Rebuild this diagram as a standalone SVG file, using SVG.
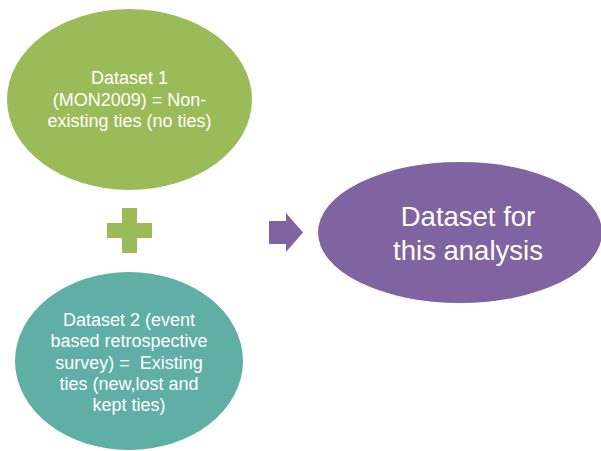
<svg xmlns="http://www.w3.org/2000/svg" width="601" height="451" viewBox="0 0 601 451">
<style>
.t{font-family:"Liberation Sans",Arial,sans-serif;fill:#ffffff;text-anchor:middle;white-space:pre}
.s{font-size:18px}
.b{font-size:27.5px}
</style>
<rect width="601" height="451" fill="#ffffff"/>
<g id="dataset1">
<ellipse cx="129.5" cy="99.5" rx="122.5" ry="90.5" fill="#9BBB59"/>
<text class="t s" x="129.5" y="84">Dataset 1</text>
<text class="t s" x="129.5" y="105.5">(MON2009) = Non-</text>
<text class="t s" x="129.5" y="127">existing ties (no ties)</text>
</g>
<g id="plus">
<path d="M122,208 H137 V223 H152 V238 H137 V253 H122 V238 H107 V223 H122 Z" fill="#9BBB59"/>
</g>
<g id="dataset2">
<ellipse cx="129" cy="361" rx="114" ry="89" fill="#5FAFA6"/>
<text class="t s" x="129" y="326">Dataset 2 (event</text>
<text class="t s" x="129" y="347">based retrospective</text>
<text class="t s" x="129" y="368.5" xml:space="preserve">survey) =  Existing</text>
<text class="t s" x="129" y="390">ties (new,lost and</text>
<text class="t s" x="129" y="411">kept ties)</text>
</g>
<g id="connectors">
<path d="M269,221 H286 V213 L303,232.5 L286,252 V244 H269 Z" fill="#8064A2"/>
</g>
<g id="result">
<ellipse cx="460" cy="232.5" rx="142" ry="70.5" fill="#8064A2"/>
<text class="t b" x="468" y="226">Dataset for</text>
<text class="t b" x="468" y="260">this analysis</text>
</g>
</svg>
